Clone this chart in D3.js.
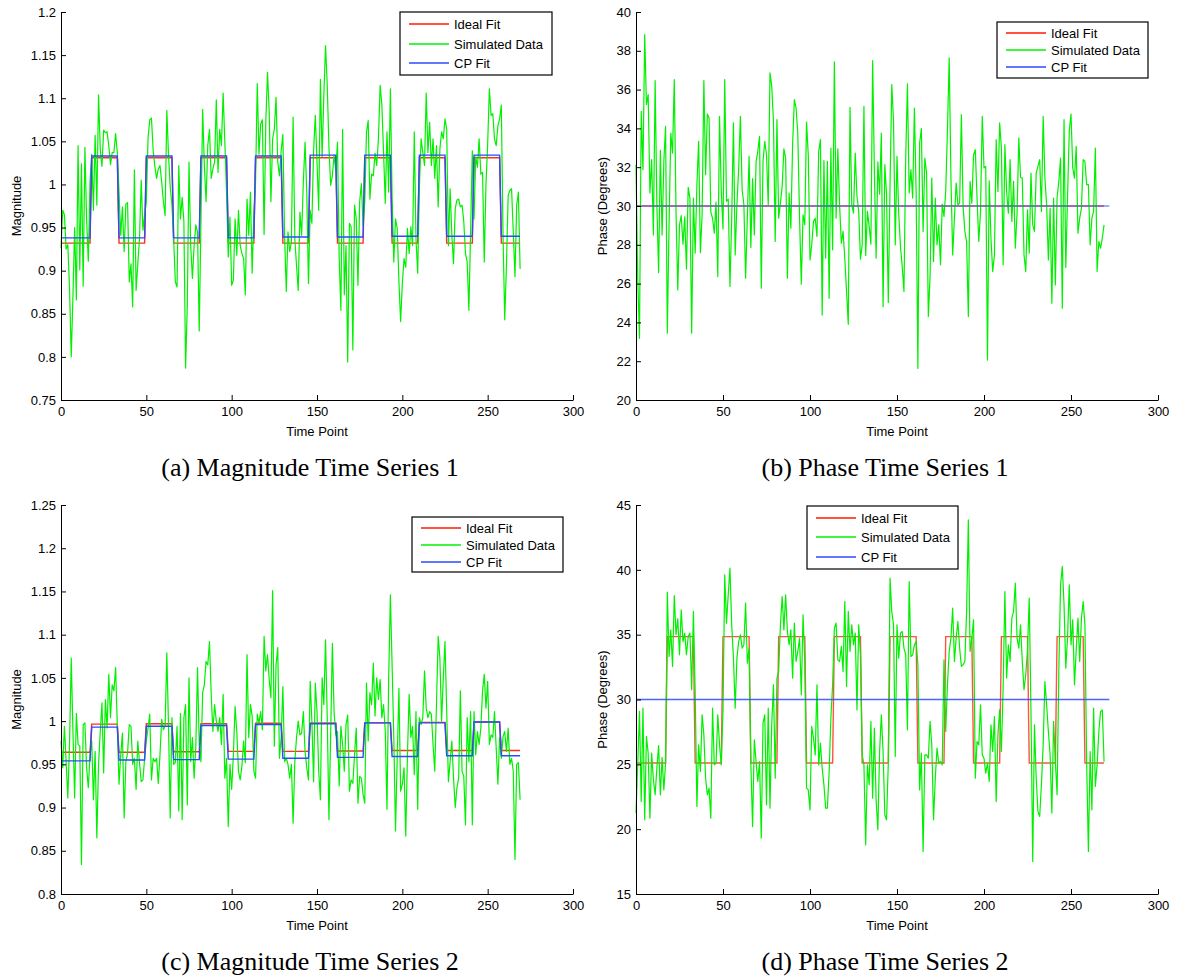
<!DOCTYPE html>
<html>
<head>
<meta charset="utf-8">
<script src="https://cdnjs.cloudflare.com/ajax/libs/d3/7.8.5/d3.min.js"></script>
<style>
body { margin: 0; background: #fff; }
svg { display: block; font-family: "Liberation Sans", Arial, sans-serif; }
.caption { font-family: "Liberation Serif", "Times New Roman", serif; }
</style>
</head>
<body>
<svg id="fig" width="1183" height="979"></svg>
<script>
// ticks and labels
const timeTicks = [0, 50, 100, 150, 200, 250, 300];
const magTicks1 = [0.75, 0.8, 0.85, 0.9, 0.95, 1, 1.05, 1.1, 1.15, 1.2];
const phaseTicks1 = [20, 22, 24, 26, 28, 30, 32, 34, 36, 38, 40];
const magTicks2 = [0.8, 0.85, 0.9, 0.95, 1, 1.05, 1.1, 1.15, 1.2, 1.25];
const phaseTicks2 = [15, 20, 25, 30, 35, 40, 45];
const legendLabels = ["Ideal Fit", "Simulated Data", "CP Fit"];
const captions = ["(a) Magnitude Time Series 1", "(b) Phase Time Series 1",
                  "(c) Magnitude Time Series 2", "(d) Phase Time Series 2"];

// the on/off blocks change at these time points
const changePoints = [18, 34, 50, 66, 82, 98, 114, 130, 146, 162, 178, 194, 210, 226, 242, 258];

// fitted level of every block
const magIdeal1 = [0.932, 1.031, 0.932, 1.031, 0.932, 1.031, 0.932, 1.031, 0.932, 1.031, 0.932, 1.031, 0.932, 1.031, 0.932, 1.031, 0.932];
const magCP1 = [0.938, 1.033, 0.938, 1.033, 0.938, 1.033, 0.938, 1.033, 0.939, 1.034, 0.939, 1.034, 0.940, 1.034, 0.940, 1.034, 0.940];
const phaseIdeal1 = [30];
const phaseCP1 = [30];
const magIdeal2 = [0.964, 0.9965, 0.964, 0.997, 0.9645, 0.997, 0.965, 0.9975, 0.965, 0.998, 0.9655, 0.998, 0.966, 0.9985, 0.966, 0.999, 0.966];
const magCP2 = [0.954, 0.993, 0.955, 0.994, 0.9555, 0.995, 0.956, 0.996, 0.957, 0.997, 0.958, 0.998, 0.959, 0.998, 0.960, 0.999, 0.960];
const phaseIdeal2 = [25.1, 34.85, 25.1, 34.85, 25.1, 34.85, 25.1, 34.85, 25.1, 34.85, 25.1, 34.85, 25.1, 34.85, 25.1, 34.85, 25.1];
const phaseCP2 = [30];
const phaseCPLength = 273;

// simulated data, one value per time point
const magData1 = [
0.926,0.970,0.965,0.925,0.930,0.880,0.800,0.870,0.950,0.866,
1.045,0.901,1.024,0.882,1.043,0.960,0.911,1.003,1.035,0.970,
1.057,0.976,1.104,1.041,1.021,1.063,1.060,1.061,1.045,1.023,
1.037,1.037,1.059,1.037,0.991,0.941,0.974,0.922,0.977,0.979,
0.887,0.908,0.858,1.017,0.877,0.908,0.937,1.005,0.947,0.965,
0.980,1.053,1.075,1.077,1.039,1.021,1.007,1.018,1.022,1.003,
0.980,0.964,1.086,1.034,0.997,0.976,0.937,0.887,0.881,1.022,
0.960,0.985,0.957,0.787,0.860,1.026,0.929,0.891,0.929,0.953,
0.945,0.830,0.958,1.087,1.022,0.980,1.045,1.064,1.007,1.018,
1.026,1.098,1.014,1.064,1.045,1.106,1.049,0.991,0.916,0.962,
0.883,0.889,0.960,0.918,0.970,0.929,0.920,0.914,0.872,0.983,
0.941,0.991,0.897,0.966,1.003,1.117,1.035,1.070,1.075,0.942,
1.072,1.130,1.084,0.980,1.053,1.064,1.101,1.026,1.010,1.039,
1.058,0.941,0.876,0.945,0.922,0.933,1.078,0.937,0.906,0.877,
0.968,0.941,1.003,1.049,0.991,0.885,0.970,0.955,1.039,1.080,
1.026,0.970,1.122,1.032,1.103,1.161,1.115,1.043,0.999,1.010,
1.034,1.016,1.049,0.914,0.854,1.064,0.872,0.929,0.794,0.955,
0.951,0.808,0.976,0.960,0.883,0.980,1.001,0.953,0.980,1.061,
1.074,0.983,1.012,1.010,1.036,1.022,1.053,1.115,1.092,1.037,
0.978,1.061,0.991,1.111,0.987,0.910,0.960,0.949,0.887,0.841,
0.885,0.914,0.904,0.949,0.920,0.951,0.929,1.061,0.937,0.897,
0.997,1.053,1.037,1.022,1.106,1.037,1.072,1.022,1.053,1.007,
1.045,0.974,1.041,1.061,1.053,1.076,1.064,0.929,0.995,0.941,
0.908,0.972,0.982,0.983,0.974,0.976,0.957,0.920,0.910,0.854,
0.945,1.039,0.960,1.032,1.020,1.053,1.012,1.014,0.910,0.999,
1.047,1.111,1.080,1.082,1.053,1.045,1.068,1.076,1.092,0.941,
0.843,0.906,0.987,0.993,0.995,0.945,0.893,0.976,0.991,0.902];

const phaseData1 = [
32.13,26.28,23.18,34.88,31.87,38.84,35.23,35.74,30.67,32.39,
28.51,36.47,30.06,26.57,32.87,28.51,32.30,34.11,23.44,29.03,
33.76,32.73,36.52,29.72,25.67,29.03,29.50,28.03,29.44,26.74,
30.96,30.41,23.44,30.41,27.57,31.10,33.33,27.60,29.55,36.47,
31.61,34.74,34.54,29.68,29.37,28.60,30.20,26.36,34.62,30.79,
28.81,36.52,30.24,30.36,25.85,29.37,34.28,27.48,30.06,31.92,
34.62,30.84,30.06,26.28,29.46,32.56,27.86,31.41,28.51,32.27,
32.82,33.59,25.76,32.30,33.33,32.64,30.06,36.86,36.17,34.37,
28.17,34.45,29.37,30.15,31.01,32.95,32.47,26.28,30.67,28.86,
33.16,35.48,35.05,33.68,29.37,25.97,29.55,29.03,34.33,32.64,
27.22,28.00,29.20,29.37,28.43,32.82,33.42,24.38,32.34,27.31,
32.30,25.24,32.99,27.74,37.43,29.37,32.95,30.06,28.08,28.69,
27.31,25.59,23.90,35.09,30.06,29.63,32.73,30.49,29.72,27.26,
28.00,35.14,27.45,29.72,28.95,28.03,37.50,31.78,27.31,32.27,
30.61,33.76,24.81,32.13,30.58,25.02,31.10,36.26,34.37,28.00,
32.56,
29.58,27.91,26.88,25.59,32.47,36.29,30.67,31.87,30.41,
35.05,30.75,21.63,33.25,33.99,28.69,32.47,31.70,24.30,26.36,
31.44,27.14,30.41,28.00,29.03,26.97,30.10,29.46,30.75,
33.94,37.64,31.44,27.48,29.37,31.18,30.06,30.15,34.71,29.98,
28.69,28.17,24.30,31.27,30.15,32.64,32.90,30.41,28.17,
29.72,34.62,31.96,32.04,22.06,31.30,28.34,26.62,27.48,33.42,
30.75,34.28,32.99,26.97,33.16,30.75,29.63,32.39,29.20,31.27,
27.83,29.63,33.51,31.47,31.44,27.48,26.62,29.80,27.57,
31.70,29.03,28.69,31.70,32.04,32.39,29.72,34.62,31.44,30.06,
27.22,29.89,24.99,30.41,25.93,30.41,31.27,32.47,24.73,
34.45,26.83,30.41,33.85,34.74,31.96,31.44,33.08,28.60,29.37,
29.89,32.39,32.30,31.10,31.10,28.00,29.37,29.72,32.99,
26.62,28.17,27.83,28.34,29.03];

const magData2 = [
0.977,0.946,0.994,0.953,0.911,0.973,1.073,0.988,0.911,1.009,
0.973,0.971,0.834,0.996,0.998,0.946,0.923,0.961,0.977,0.909,
0.965,0.865,0.950,0.988,1.021,0.940,1.025,0.992,1.054,1.004,
1.042,1.035,1.062,0.994,0.927,0.961,0.986,0.888,0.953,0.963,
0.996,0.994,0.950,0.957,0.921,0.977,0.952,0.930,0.932,0.957,
0.977,0.992,1.008,0.932,0.957,0.953,0.957,0.928,0.961,1.002,
0.990,0.994,1.079,0.994,0.888,1.004,0.950,0.952,0.994,0.896,
1.009,0.886,1.004,1.019,0.903,1.050,0.953,0.981,0.934,
0.971,1.062,0.973,0.953,1.033,1.042,1.069,1.065,1.092,1.031,
0.988,1.019,1.000,0.988,1.004,0.973,1.031,0.934,0.957,0.878,
0.950,0.921,0.961,1.017,0.988,0.942,0.932,0.948,0.977,0.952,
1.077,0.981,1.019,1.006,0.942,0.934,1.008,0.998,1.011,0.990,
1.098,1.058,1.077,1.048,1.027,1.151,0.971,1.065,1.085,0.957,
0.981,1.040,0.953,0.957,0.950,0.934,0.950,0.882,0.953,0.981,
1.000,0.984,
0.986,1.011,0.965,0.946,0.932,
1.046,1.000,0.930,1.044,1.011,0.942,0.909,1.050,1.019,1.094,
1.004,0.886,0.984,1.090,1.011,0.984,0.988,0.925,0.994,0.973,
0.942,0.996,1.007,0.919,0.932,0.928,0.961,0.992,0.905,0.936,
0.934,0.915,0.905,1.044,0.977,1.033,1.019,1.067,1.006,1.050,
1.025,1.048,1.004,1.019,0.988,0.898,1.050,1.146,1.065,
0.981,0.873,0.957,1.038,0.919,0.927,0.946,0.867,0.961,1.031,
0.981,0.994,0.938,1.011,0.898,1.004,0.996,1.004,1.058,1.015,
1.004,1.011,1.008,0.973,0.942,1.019,1.098,1.073,1.000,
1.050,1.092,1.011,0.930,0.953,0.977,0.934,0.900,0.923,0.934,
1.035,0.942,0.936,0.880,1.004,0.953,1.011,0.880,1.011,0.961,
0.988,0.973,0.992,1.035,1.054,1.015,1.046,0.973,0.984,0.981,
1.011,0.969,0.927,0.981,0.957,0.982,0.988,0.965,0.992,
0.950,0.957,0.942,0.840,0.950,0.952,0.909];

const phaseData2 = [
21.24,24.96,29.08,22.13,29.33,20.72,27.15,25.86,20.85,
25.86,23.80,22.65,24.71,26.45,22.65,25.53,23.03,25.09,
38.28,33.32,35.37,32.55,38.02,34.99,36.22,33.45,36.92,34.47,
35.12,33.45,34.86,35.12,30.75,36.79,30.62,21.75,26.50,
24.45,28.82,27.28,23.93,22.65,23.16,20.85,29.33,24.96,
25.09,28.82,26.50,24.96,29.20,39.62,35.89,38.07,40.13,35.76,
33.19,29.33,33.19,34.47,34.99,33.96,34.22,37.43,32.80,
33.96,25.09,20.20,26.89,25.22,23.68,25.22,19.31,28.18,
28.82,21.88,29.33,21.62,28.05,31.13,23.93,31.65,32.16,35.76,
37.94,35.37,38.07,35.24,34.22,35.37,31.65,35.89,32.93,
33.70,34.73,30.36,36.53,32.93,23.16,23.03,21.49,27.92,27.02,
25.73,31.13,24.96,26.63,24.71,23.42,21.62,21.62,24.45,
28.56,31.13,35.50,35.89,33.06,32.93,34.09,32.16,37.56,31.00,
36.79,33.70,35.76,34.22,35.12,29.20,35.76,33.45,25.73,24.96,
18.79,24.96,23.42,28.31,22.39,27.79,22.26,19.95,25.99,
28.82,25.99,21.11,20.72,25.09,
39.36,36.79,
35.76,25.60,35.76,33.19,35.12,35.24,33.96,33.45,
27.66,39.10,33.32,33.45,34.22,34.47,32.68,23.03,25.86,18.28,
25.73,25.73,25.47,28.31,26.50,20.72,23.93,26.25,25.09,
25.22,24.96,33.06,27.53,31.13,33.70,34.73,37.04,32.93,34.73,
36.02,33.96,32.55,32.68,32.93,36.79,43.86,33.70,34.73,
36.14,23.93,26.76,26.50,29.59,25.73,25.47,24.32,25.09,
23.68,28.05,25.99,28.69,22.13,27.28,29.20,25.99,30.88,38.33,
31.65,34.22,32.93,36.27,36.79,38.97,34.73,33.96,35.76,
32.93,30.75,31.91,33.83,37.82,29.08,17.51,28.05,23.93,21.36,
20.98,23.42,26.50,31.39,29.59,27.53,25.73,21.24,28.31,
25.22,22.65,32.16,38.84,40.26,37.30,32.42,34.73,38.84,
34.22,36.14,31.13,33.83,36.27,32.93,36.27,37.56,35.76,25.09,
18.28,25.99,21.49,29.33,23.29,24.96,27.53,29.08,29.20,
25.22];

const stepSeries = (levels, n) => {
	return d3.range(n).map((i) => levels.length === 1 ? levels[0] : levels[d3.bisectRight(changePoints, i)]);
}

const panels = [
	{data: magData1, ideal: stepSeries(magIdeal1, magData1.length), cp: stepSeries(magCP1, magData1.length),
	 yDomain: [0.75, 1.2], yTicks: magTicks1, yLabel: "Magnitude", caption: captions[0],
	 idealOpacity: 0.9, cpOpacity: 1,
	 box: {left: 61, right: 573, top: 12, bottom: 400}, labelX: 16, captionX: 310,
	 legend: {x: 400, y: 12, w: 152, h: 63, rows: [12, 32, 51]}},
	{data: phaseData1, ideal: stepSeries(phaseIdeal1, phaseData1.length), cp: stepSeries(phaseCP1, phaseCPLength),
	 yDomain: [20, 40], yTicks: phaseTicks1, yLabel: "Phase (Degrees)", caption: captions[1],
	 idealOpacity: 0.7, cpOpacity: 0.6,
	 box: {left: 636, right: 1158, top: 12, bottom: 400}, labelX: 602, captionX: 885,
	 legend: {x: 997, y: 22, w: 151, h: 56, rows: [11, 28, 45]}},
	{data: magData2, ideal: stepSeries(magIdeal2, magData2.length), cp: stepSeries(magCP2, magData2.length),
	 yDomain: [0.8, 1.25], yTicks: magTicks2, yLabel: "Magnitude", caption: captions[2],
	 idealOpacity: 0.9, cpOpacity: 1,
	 box: {left: 61, right: 573, top: 505, bottom: 894}, labelX: 16, captionX: 310,
	 legend: {x: 412, y: 517, w: 151, h: 55, rows: [11, 28, 45]}},
	{data: phaseData2, ideal: stepSeries(phaseIdeal2, phaseData2.length), cp: stepSeries(phaseCP2, phaseCPLength),
	 yDomain: [15, 45], yTicks: phaseTicks2, yLabel: "Phase (Degrees)", caption: captions[3],
	 idealOpacity: 0.75, cpOpacity: 0.85,
	 box: {left: 636, right: 1158, top: 505, bottom: 894}, labelX: 602, captionX: 885,
	 legend: {x: 807, y: 506, w: 151, h: 63, rows: [12, 31, 51]}}
];

const colours = ["#ff1a00", "#00f000", "#2a4bff"];

const drawPanel = (svg, p) => {
	let x = d3.scaleLinear().domain([0, 300]).range([p.box.left, p.box.right]);
	let y = d3.scaleLinear().domain(p.yDomain).range([p.box.bottom, p.box.top]);
	let line = d3.line().x((d, i) => x(i)).y((d) => y(d));
	let g = svg.append("g");

	g.append("path").datum(p.ideal)
		.attr("d", line).attr("fill", "none")
		.attr("stroke", colours[0]).attr("stroke-width", 1.4)
		.attr("stroke-opacity", p.idealOpacity);
	g.append("path").datum(p.data)
		.attr("d", line).attr("fill", "none")
		.attr("stroke", colours[1]).attr("stroke-width", 1.2)
		.attr("stroke-linejoin", "round");
	g.append("path").datum(p.cp)
		.attr("d", line).attr("fill", "none")
		.attr("stroke", colours[2]).attr("stroke-width", 1.4)
		.attr("stroke-opacity", p.cpOpacity);

	let xAxis = d3.axisBottom(x).tickValues(timeTicks).tickSizeInner(-5).tickSizeOuter(0).tickPadding(7);
	let yAxis = d3.axisLeft(y).tickValues(p.yTicks).tickFormat((d) => String(d))
		.tickSizeInner(-5).tickSizeOuter(0).tickPadding(5);
	g.append("g").attr("transform", `translate(0,${p.box.bottom})`).call(xAxis);
	g.append("g").attr("transform", `translate(${p.box.left},0)`).call(yAxis);
	g.selectAll(".tick text").style("font-size", "13px").attr("fill", "#000");
	g.selectAll(".domain, .tick line").attr("stroke", "#000");

	g.append("text")
		.attr("x", (p.box.left + p.box.right) / 2).attr("y", p.box.bottom + 36)
		.attr("text-anchor", "middle").style("font-size", "13px")
		.text("Time Point");
	g.append("text")
		.attr("transform", `translate(${p.labelX},${(p.box.top + p.box.bottom) / 2}) rotate(-90)`)
		.attr("dy", "0.35em").attr("text-anchor", "middle").style("font-size", "13px")
		.text(p.yLabel);

	let leg = g.append("g").attr("transform", `translate(${p.legend.x},${p.legend.y})`);
	leg.append("rect").attr("width", p.legend.w).attr("height", p.legend.h)
		.attr("fill", "#fff").attr("stroke", "#000").attr("stroke-width", 1.2);
	legendLabels.forEach((label, i) => {
		leg.append("line").attr("x1", 9).attr("x2", 49)
			.attr("y1", p.legend.rows[i]).attr("y2", p.legend.rows[i])
			.attr("stroke", colours[i]).attr("stroke-width", 1.3);
		leg.append("text").attr("x", 54).attr("y", p.legend.rows[i]).attr("dy", "0.35em")
			.style("font-size", "13px").text(label);
	});

	svg.append("text").attr("class", "caption")
		.attr("x", p.captionX).attr("y", p.box.bottom + 76)
		.attr("text-anchor", "middle").style("font-size", "26px")
		.text(p.caption);
}

const svg = d3.select("#fig");
svg.append("rect").attr("width", 1183).attr("height", 979).attr("fill", "#fff");
panels.forEach((p) => drawPanel(svg, p));
</script>
</body>
</html>
